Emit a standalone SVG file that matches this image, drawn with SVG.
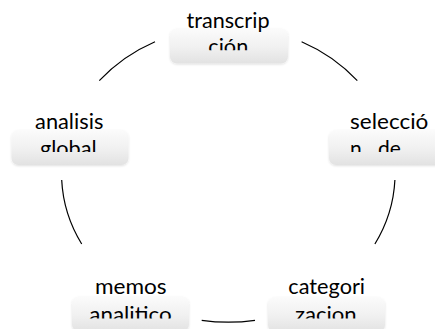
<svg xmlns="http://www.w3.org/2000/svg" width="435" height="329" viewBox="0 0 435 329">
<defs>
<linearGradient id="boxGrad" x1="0" y1="0" x2="0" y2="1">
<stop offset="0" stop-color="#fbfbfb"/>
<stop offset="0.55" stop-color="#f0f0f0"/>
<stop offset="1" stop-color="#e2e2e2"/>
</linearGradient>
<filter id="shadow" x="-10%" y="-20%" width="120%" height="150%">
<feDropShadow dx="0" dy="1" stdDeviation="1" flood-color="#000" flood-opacity="0.12"/>
</filter>
<clipPath id="clipTop" clipPathUnits="userSpaceOnUse"><rect x="150" y="0" width="160" height="50.3"/></clipPath>
<clipPath id="clipLeft" clipPathUnits="userSpaceOnUse"><rect x="0" y="90" width="150" height="62"/></clipPath>
<clipPath id="clipRight" clipPathUnits="userSpaceOnUse"><rect x="300" y="90" width="150" height="62"/></clipPath>
<clipPath id="clipBL" clipPathUnits="userSpaceOnUse"><rect x="50" y="250" width="160" height="68.5"/></clipPath>
<clipPath id="clipBR" clipPathUnits="userSpaceOnUse"><rect x="250" y="250" width="160" height="68.5"/></clipPath>
</defs>
<style>
.box { fill: url(#boxGrad); filter: url(#shadow); }
.lbl { font-family: Lato, "Liberation Sans", sans-serif; font-size: 21px; fill: #000; }
.mid { text-anchor: middle; }
.conn { fill: none; stroke: #000; stroke-width: 1.2; }
</style>
<rect x="0" y="0" width="435" height="329" fill="#fff"/>

<g id="connectors">
<path class="conn" d="M301.6,41.7 A166.6,147.8 0 0 1 357.3,80.7"/>
<path class="conn" d="M394.9,180 A166.6,147.8 0 0 1 374.9,244"/>
<path class="conn" d="M255,320.3 A166.6,147.8 0 0 1 201.7,320.3"/>
<path class="conn" d="M81.7,244 A166.6,147.8 0 0 1 61.7,180"/>
<path class="conn" d="M99.3,80.7 A166.6,147.8 0 0 1 155,41.7"/>
</g>

<g id="node-transcripcion">
<rect class="box" x="170" y="28.5" width="118" height="35" rx="7"/>
<g clip-path="url(#clipTop)">
<text class="lbl mid" x="228" y="27.7" textLength="83" lengthAdjust="spacingAndGlyphs">transcrip</text>
<text class="lbl mid" x="228.3" y="54" textLength="40" lengthAdjust="spacingAndGlyphs">ción</text>
</g>
</g>

<g id="node-seleccion">
<rect class="box" x="329" y="130" width="118" height="35" rx="7"/>
<g clip-path="url(#clipRight)">
<text class="lbl mid" x="389.2" y="128.8" textLength="78.3" lengthAdjust="spacingAndGlyphs">selecció</text>
<text class="lbl" y="155.7"><tspan x="350">n</tspan><tspan x="378">de</tspan></text>
</g>
</g>

<g id="node-categorizacion">
<rect class="box" x="268" y="297" width="117" height="35" rx="7"/>
<g clip-path="url(#clipBR)">
<text class="lbl mid" x="326.7" y="293.5" textLength="76.7" lengthAdjust="spacingAndGlyphs">categori</text>
<text class="lbl mid" x="325.8" y="322" textLength="61.7" lengthAdjust="spacingAndGlyphs">zacion</text>
</g>
</g>

<g id="node-memos">
<rect class="box" x="72" y="296.5" width="117" height="35" rx="7"/>
<g clip-path="url(#clipBL)">
<text class="lbl mid" x="130.8" y="293.5" textLength="71.7" lengthAdjust="spacingAndGlyphs">memos</text>
<text class="lbl mid" x="130.5" y="322" textLength="82.3" lengthAdjust="spacingAndGlyphs">analitico</text>
</g>
</g>

<g id="node-analisis">
<rect class="box" x="11.5" y="130" width="117" height="35" rx="7"/>
<g clip-path="url(#clipLeft)">
<text class="lbl mid" x="69.2" y="129" textLength="68.3" lengthAdjust="spacingAndGlyphs">analisis</text>
<text class="lbl mid" x="68.3" y="155.7" textLength="56.7" lengthAdjust="spacingAndGlyphs">global</text>
</g>
</g>
</svg>
